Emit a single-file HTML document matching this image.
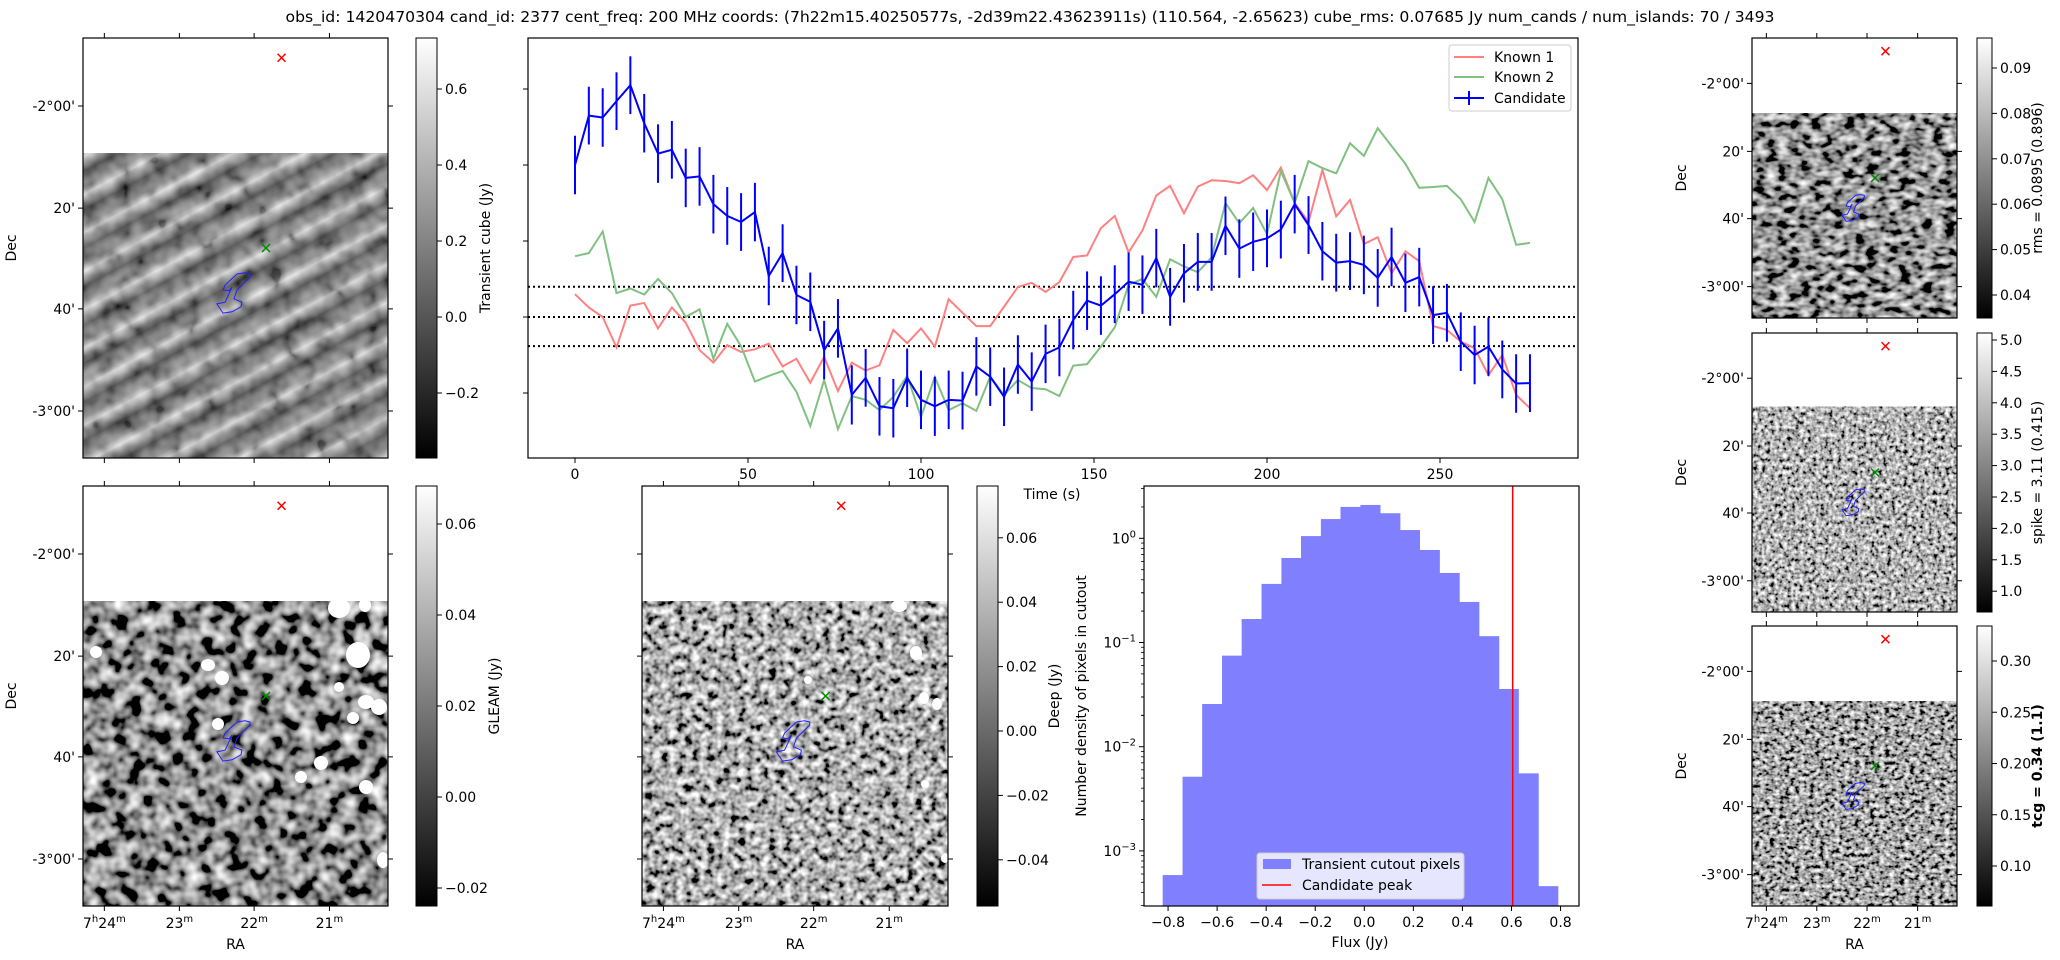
<!DOCTYPE html>
<html><head><meta charset="utf-8">
<style>
html,body{margin:0;padding:0;background:#fff;}
svg{display:block;font-family:"DejaVu Sans","Liberation Sans",sans-serif;}
</style></head>
<body>
<svg id="fig" xmlns="http://www.w3.org/2000/svg" width="2060" height="960" viewBox="0 0 2060 960">
<defs>
  <filter id="nz-stripe" x="0" y="0" width="100%" height="100%"><feTurbulence type="fractalNoise" baseFrequency="0.06" numOctaves="2" seed="3"/><feColorMatrix type="matrix" values="1.6 0 0 0 -0.35  1.6 0 0 0 -0.35  1.6 0 0 0 -0.35  0 0 0 0 1"/></filter>
  <filter id="nz-gleam" x="0" y="0" width="100%" height="100%"><feTurbulence type="fractalNoise" baseFrequency="0.07" numOctaves="2" seed="7"/><feColorMatrix type="matrix" values="2.0 0 0 0 -0.72  2.0 0 0 0 -0.72  2.0 0 0 0 -0.72  0 0 0 0 1"/></filter>
  <filter id="nz-deep" x="0" y="0" width="100%" height="100%"><feTurbulence type="fractalNoise" baseFrequency="0.13" numOctaves="2" seed="11"/><feColorMatrix type="matrix" values="2.0 0 0 0 -0.57  2.0 0 0 0 -0.57  2.0 0 0 0 -0.57  0 0 0 0 1"/></filter>
  <filter id="nz-rms" x="0" y="0" width="100%" height="100%"><feTurbulence type="fractalNoise" baseFrequency="0.09 0.14" numOctaves="2" seed="5"/><feColorMatrix type="matrix" values="1.9 0 0 0 -0.65  1.9 0 0 0 -0.65  1.9 0 0 0 -0.65  0 0 0 0 1"/></filter>
  <filter id="nz-spike" x="0" y="0" width="100%" height="100%"><feTurbulence type="fractalNoise" baseFrequency="0.24" numOctaves="2" seed="13"/><feColorMatrix type="matrix" values="2.0 0 0 0 -0.55  2.0 0 0 0 -0.55  2.0 0 0 0 -0.55  0 0 0 0 1"/></filter>
  <filter id="nz-tcg" x="0" y="0" width="100%" height="100%"><feTurbulence type="fractalNoise" baseFrequency="0.2 0.26" numOctaves="2" seed="17"/><feColorMatrix type="matrix" values="2.0 0 0 0 -0.62  2.0 0 0 0 -0.62  2.0 0 0 0 -0.62  0 0 0 0 1"/></filter>
  <linearGradient id="stripeGrad" x1="0" y1="0" x2="0" y2="1">
    <stop offset="0" stop-color="#777"/><stop offset="0.2" stop-color="#ddd"/><stop offset="0.38" stop-color="#808080"/><stop offset="0.6" stop-color="#1a1a1a"/><stop offset="0.8" stop-color="#5a5a5a"/><stop offset="1" stop-color="#777"/>
  </linearGradient>
  <pattern id="stripes" width="400" height="34" patternUnits="userSpaceOnUse" patternTransform="rotate(-28)">
    <rect width="400" height="34" fill="url(#stripeGrad)"/>
  </pattern>
  <linearGradient id="grayCb" x1="0" y1="1" x2="0" y2="0"><stop offset="0" stop-color="#000"/><stop offset="1" stop-color="#fff"/></linearGradient>
</defs>
<g id="root"></g>
</svg>
<script>
// ---------------- Light curve data ----------------
const times = [0,4,8,12,16,20,24,28,32,36,40,44,48,52,56,60,64,68,72,76,80,84,88,92,96,100,104,108,112,116,120,124,128,132,136,140,144,148,152,156,160,164,168,172,176,180,184,188,192,196,200,204,208,212,216,220,224,228,232,236,240,244,248,252,256,260,264,268,272,276];
const candidate = [0.40,0.53,0.525,0.568,0.61,0.51,0.43,0.44,0.366,0.37,0.297,0.266,0.25,0.276,0.108,0.168,0.058,0.04,-0.087,-0.03,-0.205,-0.16,-0.235,-0.24,-0.16,-0.218,-0.235,-0.218,-0.22,-0.13,-0.157,-0.21,-0.125,-0.17,-0.097,-0.08,-0.008,0.043,0.03,0.06,0.093,0.085,0.155,0.053,0.115,0.145,0.145,0.24,0.18,0.198,0.207,0.23,0.297,0.242,0.173,0.143,0.147,0.137,0.103,0.158,0.09,0.105,0.005,0.011,-0.065,-0.1,-0.078,-0.138,-0.175,-0.174];
const candidateErr = [0.077,0.076,0.077,0.076,0.076,0.077,0.077,0.076,0.077,0.077,0.077,0.076,0.076,0.077,0.077,0.076,0.077,0.077,0.077,0.077,0.078,0.076,0.077,0.077,0.077,0.077,0.078,0.077,0.076,0.077,0.077,0.077,0.077,0.077,0.077,0.076,0.077,0.077,0.077,0.076,0.077,0.077,0.077,0.076,0.077,0.076,0.076,0.077,0.077,0.077,0.076,0.076,0.077,0.076,0.077,0.076,0.076,0.077,0.076,0.077,0.077,0.077,0.076,0.076,0.077,0.077,0.077,0.076,0.077,0.076];
const known1 = [0.06,0.025,0.0,-0.08,0.03,0.037,-0.03,0.025,-0.015,-0.087,-0.12,-0.074,-0.092,-0.085,-0.07,-0.13,-0.11,-0.173,-0.105,-0.195,-0.12,-0.141,-0.127,-0.034,-0.069,-0.03,-0.078,0.047,0.011,-0.024,-0.024,0.027,0.079,0.09,0.066,0.092,0.158,0.162,0.234,0.266,0.17,0.228,0.32,0.345,0.273,0.343,0.36,0.358,0.352,0.373,0.334,0.393,0.3,0.25,0.387,0.265,0.308,0.192,0.21,0.115,0.173,0.147,-0.024,-0.034,-0.065,-0.082,-0.153,-0.1,-0.205,-0.24];
const known2 = [0.16,0.168,0.225,0.063,0.075,0.059,0.1,0.063,0.0,0.02,-0.11,-0.018,-0.077,-0.17,-0.155,-0.142,-0.197,-0.287,-0.166,-0.295,-0.208,-0.218,-0.245,-0.21,-0.155,-0.263,-0.158,-0.245,-0.227,-0.247,-0.157,-0.205,-0.166,-0.187,-0.19,-0.208,-0.128,-0.124,-0.078,-0.027,0.085,0.1,0.053,0.152,0.133,0.118,0.157,0.3,0.247,0.287,0.218,0.384,0.3,0.41,0.392,0.378,0.457,0.424,0.497,0.45,0.403,0.34,0.342,0.345,0.31,0.25,0.366,0.31,0.19,0.195];
const thresholdLines = [0.0795, 0, -0.0765];
const timeTicks = [0,50,100,150,200,250];
const fluxTicksLC = [-0.2,0.0,0.2,0.4,0.6];
// ---------------- Histogram data ----------------
const binEdges = [-0.822,-0.741,-0.661,-0.580,-0.500,-0.419,-0.338,-0.258,-0.177,-0.097,-0.016,0.064,0.145,0.225,0.306,0.387,0.467,0.548,0.628,0.709,0.789];
const binDensity = [0.000586,0.00515,0.0257,0.0748,0.168,0.365,0.647,1.05,1.53,2.0,2.09,1.74,1.20,0.773,0.465,0.245,0.115,0.0358,0.00555,0.000459];
const candidatePeak = [0.605];
const histXTicks = [-0.8,-0.6,-0.4,-0.2,0.0,0.2,0.4,0.6,0.8];
const histYDecades = [0,-1,-2,-3];

const NS = "http://www.w3.org/2000/svg";
const root = document.getElementById('root');
function mk(tag, attrs, parent) {
  const e = document.createElementNS(NS, tag);
  for (const k in attrs) e.setAttribute(k, attrs[k]);
  (parent || root).appendChild(e);
  return e;
}
function txt(str, x, y, size, anchor, parent, extra) {
  const e = mk('text', {x: x, y: y, 'font-size': size, 'text-anchor': anchor || 'start', fill: '#000'}, parent);
  if (extra) for (const k in extra) e.setAttribute(k, extra[k]);
  e.textContent = str;
  return e;
}
const fmtMinus = s => s.replace('-', '\u2212');

// ---------------- Title ----------------
{
  const t = txt('obs_id: 1420470304 cand_id: 2377 cent_freq: 200 MHz coords: (7h22m15.40250577s, -2d39m22.43623911s) (110.564, -2.65623) cube_rms: 0.07685 Jy num_cands / num_islands: 70 / 3493', 1030, 22, 15, 'middle', root, {textLength: 1489, lengthAdjust: 'spacingAndGlyphs'});
  
  
}

// ---------------- Image panels ----------------
const contourFrac = [[0.548,0.562],[0.531,0.559],[0.505,0.562],[0.466,0.588],[0.459,0.600],[0.479,0.602],[0.489,0.593],[0.466,0.629],[0.439,0.633],[0.459,0.655],[0.489,0.652],[0.518,0.640],[0.521,0.629],[0.495,0.621],[0.505,0.600],[0.548,0.569]];
const decFr = [0.162,0.405,0.645,0.888];
const raFr = [0.07,0.316,0.561,0.808];
const decLabels = ["-2°00'","20'","40'","-3°00'"];
const raLabels = [["7","h","24","m"],["","","23","m"],["","","22","m"],["","","21","m"]];

function panel(name, x, y, w, h, filter, opts) {
  const g = mk('g', {});
  
  
  const cid = 'clip-' + name;
  const cp = mk('clipPath', {id: cid}, g);
  mk('rect', {x: x, y: y, width: w, height: h}, cp);
  const ig = mk('g', {'clip-path': 'url(#' + cid + ')'}, g);
  const wy = y + h * opts.white;
  const img = mk('rect', {x: x, y: wy, width: w, height: y + h - wy, filter: 'url(#' + filter + ')'}, ig);
  
  
  if (opts.stripes) {
    const s = mk('rect', {x: x, y: wy, width: w, height: y + h - wy, fill: 'url(#stripes)', opacity: 0.6}, ig);
    
    
  }
  if (opts.blobs) {
    opts.blobs.forEach(b => {
      const bl = mk('ellipse', {cx: b[0], cy: b[1], rx: b[2], ry: b[3], fill: '#fff'}, ig);
      
      
    });
  }
  const pts = contourFrac.map(p => (x + p[0] * w).toFixed(1) + ',' + (y + p[1] * h).toFixed(1)).join(' ');
  const c = mk('polygon', {points: pts, fill: 'none', stroke: '#2020ff', 'stroke-width': 1}, g);
  
  
  const rx = x + 0.651 * w, ry = y + 0.047 * h, gx = x + 0.6 * w, gy = y + 0.5 * h;
  const red = mk('path', {d: `M${rx-4},${ry-4}L${rx+4},${ry+4}M${rx-4},${ry+4}L${rx+4},${ry-4}`, stroke: '#f00', 'stroke-width': 1.5}, g);
  
  
  const gr = mk('path', {d: `M${gx-4},${gy-4}L${gx+4},${gy+4}M${gx-4},${gy+4}L${gx+4},${gy-4}`, stroke: '#080', 'stroke-width': 1.5}, g);
  
  
  const fr = mk('rect', {x: x, y: y, width: w, height: h, fill: 'none', stroke: '#000', 'stroke-width': 1.2}, g);
  
  
  let d = '';
  decFr.forEach(f => { const ty = y + f * h; d += `M${x},${ty}h-5M${x + w},${ty}h5`; });
  raFr.forEach(f => { const tx = x + f * w; d += `M${tx},${y}v-5M${tx},${y + h}v5`; });
  const tk = mk('path', {d: d, stroke: '#000', 'stroke-width': 1}, g);
  
  
  if (opts.decLabels) {
    decFr.forEach((f, i) => {
      const l = txt(decLabels[i], x - 8, y + f * h + 5, 14, 'end', g);
      
      
    });
    const dl = txt('Dec', opts.decX, y + h / 2, 14, 'middle', g, {transform: `rotate(-90 ${opts.decX} ${y + h / 2})`});
    
    
  }
  if (opts.raLabels) {
    raFr.forEach((f, i) => {
      const l = mk('text', {x: x + f * w, y: y + h + 22, 'font-size': 14, 'text-anchor': 'middle'}, g);
      
      
      const r = raLabels[i];
      if (r[0]) { const a = mk('tspan', {}, l); a.textContent = r[0]; const b = mk('tspan', {'font-size': 10, dy: -6}, l); b.textContent = r[1]; const c2 = mk('tspan', {dy: 6}, l); c2.textContent = r[2]; }
      else { const c2 = mk('tspan', {}, l); c2.textContent = r[2]; }
      const m = mk('tspan', {'font-size': 10, dy: -6}, l); m.textContent = r[3];
    });
    const ra = txt('RA', x + w / 2, y + h + 43, 14, 'middle', g);
    
    
  }
}

function colorbar(name, x, y, w, h, ticks, v0y, slope, label, labelX, bold) {
  const g = mk('g', {});
  
  
  const r = mk('rect', {x: x, y: y, width: w, height: h, fill: 'url(#grayCb)', stroke: '#000', 'stroke-width': 1}, g);
  
  
  ticks.forEach(tv => {
    const ty = v0y - slope * tv.v;
    mk('line', {x1: x + w, x2: x + w + 5, y1: ty, y2: ty, stroke: '#000', 'stroke-width': 1}, g);
    const l = txt(fmtMinus(tv.s), x + w + 8, ty + 5, 14, 'start', g);
    
    
  });
  const cy = y + h / 2;
  const lt = txt(label, labelX, cy, 14, 'middle', g, {transform: `rotate(-90 ${labelX} ${cy})`});
  if (bold) lt.setAttribute('font-weight', 'bold');
  
  
}

panel('transient-cube-panel', 83, 38, 305, 420, 'nz-stripe', {white: 0.274, stripes: true, decLabels: true, decX: 16});
colorbar('transient-colorbar', 416, 38, 21, 420, [{v:0.6,s:'0.6'},{v:0.4,s:'0.4'},{v:0.2,s:'0.2'},{v:0,s:'0.0'},{v:-0.2,s:'-0.2'}], 317, 380, 'Transient cube (Jy)', 490);

panel('gleam-panel', 83, 486, 305, 420, 'nz-gleam', {white: 0.274, decLabels: true, decX: 16, raLabels: true,
  blobs: [[339,608,11,10],[365,605,6,7],[358,655,12,13],[208,665,7,6],[222,678,7,7],[96,652,6,6],[218,724,6,6],[366,702,8,7],[379,707,8,8],[353,718,6,6],[321,763,7,7],[301,777,6,6],[366,787,7,7],[383,860,6,8],[339,687,5,5]]});
colorbar('gleam-colorbar', 416, 486, 21, 420, [{v:0.06,s:'0.06'},{v:0.04,s:'0.04'},{v:0.02,s:'0.02'},{v:0,s:'0.00'},{v:-0.02,s:'-0.02'}], 797, 4550, 'GLEAM (Jy)', 499);

panel('deep-panel', 642, 486, 306, 420, 'nz-deep', {white: 0.274, raLabels: true,
  blobs: [[899,606,8,6],[916,653,6,7],[924,698,5,6],[937,704,5,6],[925,784,4,4],[945,858,4,5],[808,680,4,4]]});
colorbar('deep-colorbar', 977, 486, 21, 420, [{v:0.06,s:'0.06'},{v:0.04,s:'0.04'},{v:0.02,s:'0.02'},{v:0,s:'0.00'},{v:-0.02,s:'-0.02'},{v:-0.04,s:'-0.04'}], 731, 3220, 'Deep (Jy)', 1059);

panel('rms-panel', 1752, 38, 205, 280, 'nz-rms', {white: 0.268, decLabels: true, decX: 1686});
colorbar('rms-colorbar', 1977, 38, 15, 280, [{v:0.09,s:'0.09'},{v:0.08,s:'0.08'},{v:0.07,s:'0.07'},{v:0.06,s:'0.06'},{v:0.05,s:'0.05'},{v:0.04,s:'0.04'}], 68 + 0.09 * 4540, 4540, 'rms = 0.0895 (0.896)', 2042);

panel('spike-panel', 1752, 333, 205, 279, 'nz-spike', {white: 0.265, decLabels: true, decX: 1686});
colorbar('spike-colorbar', 1977, 333, 15, 279, [{v:5,s:'5.0'},{v:4.5,s:'4.5'},{v:4,s:'4.0'},{v:3.5,s:'3.5'},{v:3,s:'3.0'},{v:2.5,s:'2.5'},{v:2,s:'2.0'},{v:1.5,s:'1.5'},{v:1,s:'1.0'}], 340 + 5 * 62.8, 62.8, 'spike = 3.11 (0.415)', 2042);

panel('tcg-panel', 1752, 626, 205, 280, 'nz-tcg', {white: 0.268, decLabels: true, decX: 1686, raLabels: true});
colorbar('tcg-colorbar', 1977, 626, 15, 280, [{v:0.30,s:'0.30'},{v:0.25,s:'0.25'},{v:0.20,s:'0.20'},{v:0.15,s:'0.15'},{v:0.10,s:'0.10'}], 661 + 0.3 * 1025, 1025, 'tcg = 0.34 (1.1)', 2042, true);

// ---------------- Light curve ----------------
const LC = {l: 528, r: 1578, t: 38, b: 458};
const xT = tv => 575 + 3.46 * tv;
const yV = v => 317 - 380 * v;
{
  const g = mk('g', {});
  
  
  const cp = mk('clipPath', {id: 'lcclip'}, g);
  mk('rect', {x: LC.l, y: LC.t, width: LC.r - LC.l, height: LC.b - LC.t}, cp);
  const pg = mk('g', {'clip-path': 'url(#lcclip)'}, g);
  thresholdLines.forEach(v => {
    const l = mk('line', {x1: LC.l, x2: LC.r, y1: yV(v), y2: yV(v), stroke: '#000', 'stroke-width': 2, 'stroke-dasharray': '2,3'}, pg);
    
    
  });
  const k1 = mk('polyline', {points: times.map((tv, i) => xT(tv) + ',' + yV(known1[i])).join(' '), fill: 'none', stroke: '#ff8080', 'stroke-width': 2}, pg);
  
  
  const k2 = mk('polyline', {points: times.map((tv, i) => xT(tv) + ',' + yV(known2[i])).join(' '), fill: 'none', stroke: '#80c080', 'stroke-width': 2}, pg);
  
  
  times.forEach((tv, i) => {
    const e = mk('line', {x1: xT(tv), x2: xT(tv), y1: yV(candidate[i] + candidateErr[i]), y2: yV(candidate[i] - candidateErr[i]), stroke: '#00f', 'stroke-width': 2}, pg);
    
    
  });
  const cl = mk('polyline', {points: times.map((tv, i) => xT(tv) + ',' + yV(candidate[i])).join(' '), fill: 'none', stroke: '#00f', 'stroke-width': 2}, pg);
  
  
  const fr = mk('rect', {x: LC.l, y: LC.t, width: LC.r - LC.l, height: LC.b - LC.t, fill: 'none', stroke: '#000', 'stroke-width': 1.2}, g);
  
  
  timeTicks.forEach(tv => {
    mk('line', {x1: xT(tv), x2: xT(tv), y1: LC.b, y2: LC.b + 5, stroke: '#000'}, g);
    const l = txt(String(tv), xT(tv), LC.b + 21, 14, 'middle', g);
    
    
  });
  fluxTicksLC.forEach(v => { mk('line', {x1: LC.l, x2: LC.l - 5, y1: yV(v), y2: yV(v), stroke: '#000'}, g); });
  const xl = txt('Time (s)', 1052, 499, 14, 'middle', g);
  
  
  const lg = mk('g', {}, g);
  
  
  mk('rect', {x: 1449, y: 45, width: 122, height: 66, rx: 3, fill: '#fff', 'fill-opacity': 0.8, stroke: '#ccc'}, lg);
  const ents = [['Known 1', '#ff8080', 57], ['Known 2', '#80c080', 77], ['Candidate', '#00f', 98]];
  ents.forEach(en => {
    mk('line', {x1: 1454, x2: 1484, y1: en[2], y2: en[2], stroke: en[1], 'stroke-width': 2}, lg);
    if (en[0] === 'Candidate') mk('line', {x1: 1469, x2: 1469, y1: en[2] - 7, y2: en[2] + 7, stroke: en[1], 'stroke-width': 2}, lg);
    const l = txt(en[0], 1494, en[2] + 5, 14, 'start', lg);
    
    
  });
}

// ---------------- Histogram ----------------
const H = {l: 1144, r: 1579, t: 486, b: 906};
const xF = v => 1364.3 + 245.3 * v;
const yD = d => 538.3 - 104.2 * Math.log10(d);
{
  const g = mk('g', {});
  
  
  const cp = mk('clipPath', {id: 'hclip'}, g);
  mk('rect', {x: H.l, y: H.t, width: H.r - H.l, height: H.b - H.t}, cp);
  const pg = mk('g', {'clip-path': 'url(#hclip)'}, g);
  binDensity.forEach((d, i) => {
    const x0 = xF(binEdges[i]), x1 = xF(binEdges[i + 1]);
    const b = mk('rect', {x: x0, y: yD(d), width: x1 - x0 + 0.5, height: H.b - yD(d) + 2, fill: '#8080ff'}, pg);
    
    
  });
  const pk = mk('line', {x1: xF(candidatePeak[0]), x2: xF(candidatePeak[0]), y1: H.t, y2: H.b, stroke: '#f00', 'stroke-width': 1.5}, pg);
  
  
  const fr = mk('rect', {x: H.l, y: H.t, width: H.r - H.l, height: H.b - H.t, fill: 'none', stroke: '#000', 'stroke-width': 1.2}, g);
  
  
  histXTicks.forEach(v => {
    mk('line', {x1: xF(v), x2: xF(v), y1: H.b, y2: H.b + 5, stroke: '#000'}, g);
    const l = txt(fmtMinus(v.toFixed(1)), xF(v), H.b + 21, 14, 'middle', g);
    
    
  });
  histYDecades.forEach(p => {
    const ty = yD(Math.pow(10, p));
    mk('line', {x1: H.l, x2: H.l - 5, y1: ty, y2: ty, stroke: '#000'}, g);
    const l = mk('text', {x: H.l - 8, y: ty + 5, 'font-size': 14, 'text-anchor': 'end'}, g);
    
    
    const a = mk('tspan', {}, l); a.textContent = '10';
    const b = mk('tspan', {'font-size': 10, dy: -6}, l); b.textContent = p === 0 ? '0' : '\u2212' + (-p);
    for (let m = 2; m <= 9; m++) {
      const my = yD(m * Math.pow(10, p - 1));
      if (my > H.t && my < H.b) mk('line', {x1: H.l, x2: H.l - 3, y1: my, y2: my, stroke: '#000', 'stroke-width': 0.8}, g);
    }
    for (let m = 2; m <= 3; m++) { const my = yD(m * Math.pow(10, p)); if (my > H.t && my < H.b) mk('line', {x1: H.l, x2: H.l - 3, y1: my, y2: my, stroke: '#000', 'stroke-width': 0.8}, g); }
  });
  const yl = txt('Number density of pixels in cutout', 1086, 696, 14, 'middle', g, {transform: 'rotate(-90 1086 696)'});
  
  
  const xl = txt('Flux (Jy)', 1360, 947, 14, 'middle', g);
  
  
  const lg = mk('g', {}, g);
  
  
  mk('rect', {x: 1257, y: 853, width: 207, height: 46, rx: 3, fill: '#fff', 'fill-opacity': 0.8, stroke: '#ccc'}, lg);
  mk('rect', {x: 1263, y: 859, width: 28, height: 10, fill: '#8080ff'}, lg);
  const e1 = txt('Transient cutout pixels', 1302, 869, 14, 'start', lg);
  
  
  mk('line', {x1: 1262, x2: 1291, y1: 885, y2: 885, stroke: '#f00', 'stroke-width': 1.5}, lg);
  const e2 = txt('Candidate peak', 1302, 890, 14, 'start', lg);
  
  
}
</script>
</body></html>
